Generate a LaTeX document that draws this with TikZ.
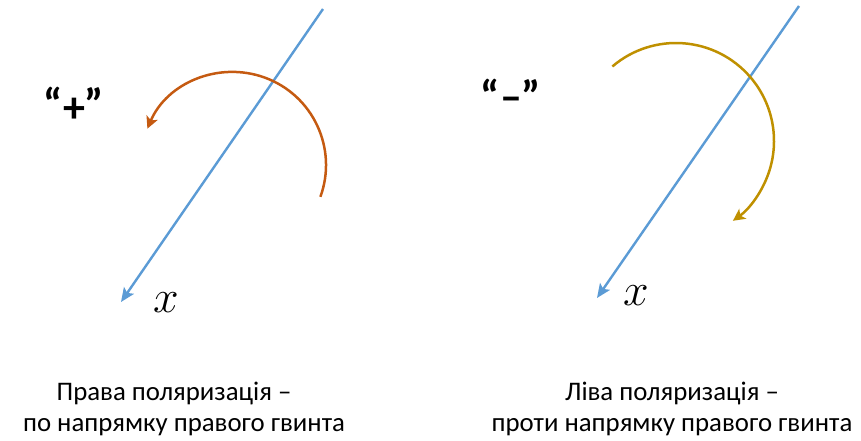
\RequirePackage{fix-cm}
\documentclass[tikz,border=0pt]{standalone}
\usepackage{fontspec}
\setmainfont{Carlito}
\usetikzlibrary{arrows.meta}
\definecolor{axisblue}{HTML}{5B9BD5}
\definecolor{rorange}{HTML}{C55A11}
\definecolor{lgold}{HTML}{BF9000}
\tikzset{
  axisline/.style={draw=axisblue, line width=2.4pt, -{Stealth[length=14pt,width=12pt,inset=3pt]}},
  rotarc/.style={line width=2.5pt, -{Stealth[length=12pt,width=12pt,inset=3pt]}},
  caption/.style={font=\fontsize{26.8}{30}\selectfont, anchor=base, inner sep=0pt},
  signlabel/.style={font=\fontsize{44}{48}\selectfont\bfseries, inner sep=0pt, anchor=base},
  axislabel/.style={font=\fontsize{46}{50}\selectfont, inner sep=0pt}
}
\begin{document}
\begin{tikzpicture}[x=1pt,y=-1pt]
\useasboundingbox (0,0) rectangle (861,441);
% left (right polarization)
\coordinate (a1) at (323,9);
\coordinate (b1) at (121,302);
\draw[axisline] (a1) -- (b1);
\coordinate (c1) at (233,165);
\draw[rotarc, draw=rorange] (c1) ++(-20:93pt) arc[start angle=-20, end angle=157, radius=93pt];
\node[signlabel] (p) at (74,119) {“\raisebox{-3pt}{+}”};
\node[axislabel] (x1) at (166,303) {$x$};
\node[caption] (t1) at (174,400) {Права поляризація –};
\node[caption] (t2) at (184,431) {по напрямку правого гвинта};
% right (left polarization)
\coordinate (a2) at (799,6);
\coordinate (b2) at (597,298);
\draw[axisline] (a2) -- (b2);
\coordinate (c2) at (676,141);
\draw[rotarc, draw=lgold] (c2) ++(130.5:98pt) arc[start angle=130.5, end angle=-54.5, radius=98pt];
\node[signlabel] (m) at (511,112) {“–”};
\node[axislabel] (x2) at (636,296) {$x$};
\node[caption] (t3) at (672,400) {Ліва поляризація –};
\node[caption] (t4) at (672,431) {проти напрямку правого гвинта};
\end{tikzpicture}
\end{document}
